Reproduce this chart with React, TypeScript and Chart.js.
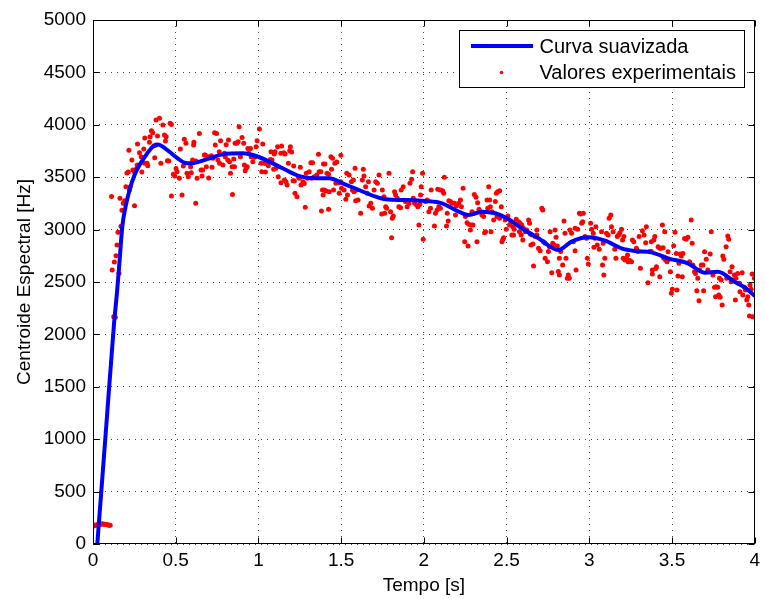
import React, { useEffect, useRef } from 'react';
import { Chart, registerables } from 'chart.js';

Chart.register(...registerables);

const FONT = "'Liberation Sans', Arial, Helvetica, sans-serif";

// Smoothed curve ("Curva suavizada")
const curveTime = [0.015, 0.026, 0.08, 0.127, 0.145, 0.161, 0.177, 0.197, 0.221, 0.251, 0.281, 0.321, 0.361, 0.392, 0.422, 0.462, 0.512, 0.552, 0.592, 0.643, 0.705, 0.785, 0.906, 0.986, 1.066, 1.146, 1.247, 1.348, 1.428, 1.508, 1.608, 1.709, 1.769, 1.889, 2.010, 2.110, 2.191, 2.271, 2.351, 2.432, 2.502, 2.592, 2.693, 2.813, 2.893, 2.994, 3.095, 3.195, 3.275, 3.375, 3.476, 3.596, 3.697, 3.777, 3.878, 3.948, 4.0];
const curveCentroid = [-230, 0, 1123, 2100, 2400, 2710, 3028, 3219, 3378, 3521, 3616, 3712, 3791, 3813, 3791, 3743, 3680, 3639, 3632, 3648, 3680, 3718, 3728, 3702, 3648, 3585, 3511, 3489, 3489, 3442, 3378, 3314, 3289, 3282, 3273, 3251, 3187, 3139, 3171, 3156, 3108, 3013, 2917, 2805, 2885, 2926, 2894, 2821, 2796, 2783, 2726, 2678, 2589, 2598, 2503, 2440, 2366];

// Experimental values ("Valores experimentais")
const expTime = [
  0.002, 0.008, 0.014, 0.020, 0.026, 0.032, 0.038, 0.044, 0.050, 0.056, 0.062, 0.068, 0.074, 0.080, 0.086, 0.092, 0.098, 0.104,
  0.125, 0.135, 0.116, 0.129, 0.139, 0.145, 0.151, 0.157, 0.169, 0.175, 0.112, 0.163, 0.183, 0.191, 0.199, 0.225, 0.221, 0.251, 0.205, 0.213, 0.235, 0.217, 0.241, 0.261, 0.251, 0.269, 0.267, 0.281, 0.295, 0.307, 0.291, 0.313, 0.311, 0.327, 0.331, 0.345, 0.341, 0.353, 0.361, 0.369, 0.381, 0.381, 0.402, 0.373, 0.390, 0.410, 0.422, 0.432, 0.442, 0.438, 0.450, 0.458, 0.466, 0.474, 0.474, 0.486, 0.494, 0.502, 0.508, 0.522, 0.528, 0.538, 0.546, 0.552, 0.562, 0.568, 0.576, 0.590, 0.594, 0.602, 0.622, 0.610, 0.608, 0.621, 0.629, 0.643, 0.653, 0.663, 0.659, 0.673,
  0.679, 0.695, 0.715, 0.725, 0.685, 0.719, 0.699, 0.735, 0.747, 0.739, 0.755, 0.765, 0.763, 0.771, 0.785, 0.795, 0.799, 0.805, 0.819, 0.815, 0.825, 0.831, 0.841, 0.843, 0.851, 0.855, 0.859, 0.869, 0.877, 0.883, 0.891, 0.901, 0.911, 0.915, 0.920, 0.932, 0.926, 0.936, 0.952, 0.942, 0.956, 0.966, 0.976, 0.986, 0.992, 1.006, 1.016, 1.020, 1.026, 1.036, 1.046, 1.042, 1.060, 1.072, 1.082, 1.076, 1.096, 1.100, 1.092, 1.106, 1.116, 1.120, 1.136, 1.140, 1.136, 1.157, 1.167, 1.153, 1.161, 1.173, 1.181, 1.189, 1.193, 1.201, 1.209, 1.217, 1.213, 1.221, 1.233, 1.241, 1.253, 1.247, 1.257, 1.269, 1.277, 1.283, 1.289, 1.297, 1.307, 1.317, 1.327, 1.321, 1.337, 1.353, 1.363, 1.367, 1.377, 1.381, 1.387, 1.391, 1.393,
  1.402, 1.414, 1.424, 1.438, 1.448, 1.462, 1.474, 1.442, 1.424, 1.408, 1.428, 1.398, 1.454, 1.468, 1.482, 1.498, 1.498, 1.488, 1.502, 1.518, 1.528, 1.538, 1.534, 1.548, 1.562, 1.574, 1.584, 1.568, 1.578, 1.594, 1.588, 1.602, 1.618, 1.628, 1.634, 1.638, 1.648, 1.658, 1.665, 1.679, 1.669, 1.689, 1.699, 1.709, 1.719, 1.729, 1.749, 1.759, 1.745, 1.763, 1.769, 1.775, 1.789, 1.799, 1.815, 1.809, 1.805, 1.823, 1.829, 1.839, 1.849, 1.859, 1.863, 1.875, 1.889, 1.899, 1.910, 1.916, 1.926, 1.932, 1.936, 1.944, 1.956, 1.964, 1.976, 1.970, 1.980, 1.984, 1.996, 1.992, 2.010, 2.020, 2.030, 2.040, 2.044,
  2.084, 2.100, 2.114, 2.120, 2.124, 2.080, 2.070, 2.064, 2.090, 2.100, 2.137, 2.147, 2.151, 2.161, 2.171, 2.141, 2.185, 2.197, 2.211, 2.191, 2.221, 2.227, 2.237, 2.251, 2.261, 2.271, 2.247, 2.267, 2.281, 2.287, 2.297, 2.291, 2.301, 2.305, 2.315, 2.325, 2.333, 2.321, 2.341, 2.351, 2.361, 2.367, 2.373, 2.382, 2.392, 2.386, 2.402, 2.412, 2.398, 2.406, 2.422, 2.432, 2.438, 2.446, 2.458, 2.442, 2.458, 2.472, 2.478, 2.482, 2.468, 2.492, 2.498, 2.508, 2.518, 2.526, 2.538, 2.546, 2.532, 2.542, 2.558, 2.566, 2.572, 2.582, 2.592, 2.588, 2.598, 2.578, 2.602, 2.612, 2.622, 2.633, 2.639, 2.643, 2.653, 2.647, 2.659, 2.663, 2.673, 2.683, 2.693, 2.703, 2.713, 2.719, 2.683,
  2.723, 2.733, 2.733, 2.747, 2.753, 2.759, 2.763, 2.773, 2.779, 2.787, 2.793, 2.799, 2.807, 2.813, 2.819, 2.819, 2.827, 2.839, 2.847, 2.853, 2.859, 2.867, 2.873, 2.879, 2.883, 2.893, 2.904, 2.914, 2.914, 2.920, 2.930, 2.940, 2.948, 2.964, 2.954, 2.960, 2.974, 2.984, 2.988, 2.994, 3.008, 3.014, 3.024, 3.034, 3.028, 3.040, 3.048, 3.060, 3.074, 3.084, 3.080, 3.088, 3.094, 3.104, 3.114, 3.120, 3.130, 3.134, 3.144, 3.154, 3.161, 3.169, 3.177, 3.185, 3.195, 3.201, 3.209, 3.205, 3.215, 3.225, 3.235, 3.245, 3.255, 3.231, 3.261, 3.269, 3.285, 3.295, 3.301, 3.309, 3.321, 3.331, 3.345, 3.341, 3.355, 3.365, 3.375, 3.375, 3.381, 3.381,
  3.396, 3.390, 3.402, 3.406, 3.416, 3.426, 3.426, 3.436, 3.446, 3.442, 3.456, 3.450, 3.462, 3.470, 3.476, 3.482, 3.490, 3.496, 3.502, 3.510, 3.518, 3.526, 3.530, 3.536, 3.542, 3.550, 3.556, 3.566, 3.562, 3.576, 3.586, 3.596, 3.606, 3.616, 3.622, 3.626, 3.636, 3.642, 3.650, 3.656, 3.667, 3.663, 3.677, 3.687, 3.691, 3.697, 3.707, 3.717, 3.731, 3.737, 3.747, 3.757, 3.763, 3.767, 3.777, 3.783, 3.791, 3.787, 3.797, 3.803, 3.807, 3.813, 3.827, 3.837, 3.843, 3.831, 3.851, 3.863, 3.857, 3.867, 3.877, 3.887, 3.883, 3.897, 3.907, 3.911, 3.924, 3.928, 3.938, 3.944, 3.952, 3.964, 3.958, 3.972, 3.978, 3.984, 3.998, 3.968, 3.988,
];
const expCentroid = [
  172, 175, 178, 181, 184, 186, 188, 190, 191, 191, 190, 189, 188, 186, 184, 182, 180, 178,
  2169, 2163, 2614, 2691, 2751, 2853, 2974, 2583, 3031, 3184, 3317, 3298, 3251, 3276, 3410, 3410, 3378, 3228, 3540, 3549, 3664, 3756, 3569, 3578, 3553, 3817, 3616, 3734, 3549, 3769, 3696, 3874, 3632, 3632, 3610, 3887, 3833, 3944, 3925, 3801, 3807, 4046, 4062, 3686, 3893, 3632, 3998, 3903, 3887, 3845, 3658, 3655, 4014, 4004, 3321, 3527, 3511, 3584, 3553, 3489, 3769, 3330, 3607, 3861, 3823, 3537, 3505, 3600, 3543, 3664, 3655, 3833, 3807, 3251, 3489, 3918, 3569, 3569, 3511, 3712,
  3712, 3696, 3705, 3680, 3600, 3594, 3492, 3925, 3918, 3807, 3664, 3632, 3743, 3848, 3616, 3728, 3696, 3810, 3855, 3664, 3648, 3537, 3600, 3336, 3674, 3600, 3823, 3823, 3839, 3982, 3696, 3880, 3823, 3616, 3562, 3600, 3585, 3775, 3775, 3728, 3696, 3648, 3690, 3791, 3848, 3960, 3632, 3553, 3817, 3632, 3632, 3549, 3610, 3670, 3664, 3743, 3721, 3743, 3575, 3585, 3791, 3505, 3728, 3798, 3448, 3473, 3457, 3734, 3721, 3426, 3632, 3753, 3791, 3740, 3467, 3464, 3607, 3346, 3314, 3505, 3594, 3489, 3426, 3457, 3441, 3213, 3537, 3489, 3553, 3638, 3638, 3489, 3505, 3521, 3718, 3553, 3553, 3177, 3378, 3330, 3626,
  3626, 3537, 3527, 3696, 3680, 3632, 3645, 3575, 3194, 3369, 3362, 3378, 3378, 3442, 3448, 3457, 3709, 3346, 3394, 3378, 3289, 3330, 3537, 3521, 3457, 3473, 3585, 3378, 3362, 3378, 3276, 3282, 3155, 3473, 3575, 3511, 3410, 3346, 3457, 3251, 3225, 3203, 3378, 3457, 3442, 3521, 3378, 3314, 3149, 3155, 3219, 3203, 3537, 3171, 3130, 3108, 2923, 3362, 3330, 3298, 3219, 3209, 3378, 3410, 3267, 3219, 3251, 3442, 3480, 3553, 3298, 3251, 3235, 3219, 3241, 3044, 3330, 3410, 2907, 3537, 3267, 3282, 3171, 3203, 3378,
  3384, 3378, 3371, 3346, 3499, 3187, 3155, 3034, 3219, 3203, 3034, 3082, 3276, 3267, 3251, 3155, 3251, 3225, 3251, 3139, 3282, 3219, 3394, 3124, 3066, 3050, 2885, 2844, 2996, 3044, 3044, 3171, 3155, 3336, 3308, 3257, 3194, 2885, 3171, 3139, 3124, 2971, 2980, 3282, 3410, 3203, 3219, 3171, 3282, 2980, 3092, 3267, 3346, 3362, 3371, 3124, 3108, 2885, 2907, 2923, 3219, 3092, 3003, 3130, 3044, 3073, 3028, 3003, 2948, 2948, 3098, 3044, 3076, 3060, 3044, 2948, 2901, 2980, 3012, 2980, 2996, 3092, 3060, 2958, 2948, 2853, 2863, 2653, 2933, 2948, 2821, 2799, 3203, 3187, 2996,
  2885, 2869, 2726, 2694, 2790, 2837, 2980, 2589, 2869, 2853, 2996, 2926, 2844, 2599, 2567, 2726, 2790, 2663, 3082, 2965, 2726, 2535, 2567, 2535, 2996, 2965, 2885, 3012, 2799, 2615, 3003, 3155, 3149, 3155, 3060, 3076, 2933, 2917, 2726, 2672, 3060, 3003, 2965, 2917, 2831, 3028, 2853, 2812, 2980, 2869, 2663, 2567, 2726, 2965, 2949, 3108, 3139, 3028, 2980, 2812, 2726, 2933, 2949, 2971, 3003, 2901, 2933, 2726, 2710, 2726, 2694, 2704, 2694, 2758, 2901, 2885, 2821, 2790, 2933, 2631, 2990, 2949, 3028, 2875, 2494, 2790, 2790, 2885, 2615, 2577,
  2933, 2901, 2630, 2646, 2837, 2821, 2551, 2821, 2827, 3044, 2980, 2726, 2710, 2694, 2789, 2716, 2598, 2392, 2430, 2846, 2974, 2773, 2424, 2557, 2678, 2767, 2748, 2773, 2551, 2916, 2907, 2926, 2694, 3091, 2869, 2662, 2598, 2582, 2417, 2535, 2614, 2322, 2662, 2662, 2417, 2789, 2716, 2614, 2767, 2980, 2567, 2449, 2360, 2455, 2449, 2376, 2354, 2535, 2519, 2280, 2748, 2716, 2837, 2939, 2907, 2535, 2598, 2646, 2503, 2519, 2567, 2535, 2328, 2582, 2487, 2408, 2589, 2376, 2449, 2424, 2328, 2280, 2360, 2471, 2430, 2576, 2535, 2175, 2169,
];

const legendLabels = ['Curva suavizada', 'Valores experimentais'];
const xTitle = 'Tempo [s]';
const yTitle = 'Centroide Espectral [Hz]';

const matlabFrame = {
  id: 'matlabFrame',
  afterDatasetsDraw(chart: any) {
    const { ctx, chartArea: a, scales } = chart;
    const L = Math.round(a.left) + 0.5;
    const R = Math.round(a.right) - 0.5;
    const T = Math.round(a.top) + 0.5;
    const B = Math.round(a.bottom) - 0.5;
    ctx.save();
    ctx.strokeStyle = '#000';
    ctx.lineWidth = 1;
    ctx.setLineDash([]);
    ctx.strokeRect(L, T, R - L, B - T);
    const tl = 6;
    ctx.beginPath();
    for (const t of scales.x.ticks) {
      const px = Math.round(scales.x.getPixelForValue(t.value)) + 0.5;
      ctx.moveTo(px, B); ctx.lineTo(px, B - tl);
      ctx.moveTo(px, T); ctx.lineTo(px, T + tl);
    }
    for (const t of scales.y.ticks) {
      const py = Math.round(scales.y.getPixelForValue(t.value)) + 0.5;
      ctx.moveTo(L, py); ctx.lineTo(L + tl, py);
      ctx.moveTo(R, py); ctx.lineTo(R - tl, py);
    }
    ctx.stroke();

    // legend box
    const bw = 285, bh = 57;
    const bx = Math.round(a.right) - 10.5 - bw;
    const by = Math.round(a.top) + 10.5;
    ctx.fillStyle = '#fff';
    ctx.fillRect(bx, by, bw, bh);
    ctx.strokeRect(bx, by, bw, bh);
    const row1 = by + 15.5;
    const row2 = by + 42;
    ctx.strokeStyle = '#0000ff';
    ctx.lineWidth = 4;
    ctx.beginPath();
    ctx.moveTo(bx + 11.5, row1);
    ctx.lineTo(bx + 73.5, row1);
    ctx.stroke();
    ctx.fillStyle = '#ff0000';
    ctx.beginPath();
    ctx.arc(bx + 42, row2, 1.8, 0, Math.PI * 2);
    ctx.fill();
    ctx.fillStyle = '#000';
    ctx.font = `20px ${FONT}`;
    ctx.textAlign = 'left';
    ctx.textBaseline = 'middle';
    ctx.fillText(legendLabels[0], bx + 80, row1 + 1);
    ctx.fillText(legendLabels[1], bx + 80, row2 + 1);
    ctx.restore();
  },
};

export default function App() {
  const ref = useRef<HTMLCanvasElement>(null);
  useEffect(() => {
    document.body.style.margin = '0';
    const curve = curveTime.map((t, i) => ({ x: t, y: curveCentroid[i] }));
    const exp = expTime.map((t, i) => ({ x: t, y: expCentroid[i] }));
    const chart = new Chart(ref.current as HTMLCanvasElement, {
      type: 'scatter',
      data: {
        datasets: [
          {
            label: legendLabels[0],
            data: curve,
            showLine: true,
            borderColor: '#0000ff',
            borderWidth: 4,
            pointRadius: 0,
            pointHoverRadius: 0,
            cubicInterpolationMode: 'monotone',
            clip: 0,
            order: 0,
          } as any,
          {
            label: legendLabels[1],
            data: exp,
            backgroundColor: '#ff0000',
            borderWidth: 0,
            pointRadius: 2.5,
            pointHoverRadius: 2.5,
            clip: 0,
            order: 1,
          } as any,
        ],
      },
      options: {
        responsive: false,
        animation: false,
        devicePixelRatio: 1,
        events: [],
        layout: { padding: { left: 0, right: 8, top: 20, bottom: 0 } },
        plugins: { legend: { display: false }, tooltip: { enabled: false } },
        scales: {
          x: {
            type: 'linear',
            min: 0,
            max: 4,
            ticks: {
              stepSize: 0.5,
              color: '#000',
              font: { family: FONT, size: 19 },
              padding: 5,
              maxRotation: 0,
              autoSkip: false,
              callback: (v: any) => String(v),
            },
            grid: { color: 'rgba(0,0,0,0.75)', lineWidth: 1, drawTicks: false },
            border: { display: false, dash: [1, 5] },
            title: { display: true, text: xTitle, color: '#000', font: { family: FONT, size: 19 }, padding: { top: 0, bottom: 2 } },
            afterFit: (s: any) => { s.height = 55; },
          },
          y: {
            type: 'linear',
            min: 0,
            max: 5000,
            ticks: {
              stepSize: 500,
              color: '#000',
              font: { family: FONT, size: 19 },
              padding: 7,
              autoSkip: false,
              callback: (v: any) => String(v),
            },
            grid: { color: 'rgba(0,0,0,0.75)', lineWidth: 1, drawTicks: false },
            border: { display: false, dash: [1, 5] },
            title: { display: true, text: yTitle, color: '#000', font: { family: FONT, size: 19 }, padding: { top: 13, bottom: 0 } },
            afterFit: (s: any) => { s.width = 93; },
          },
        },
      },
      plugins: [matlabFrame],
    } as any);
    return () => chart.destroy();
  }, []);
  return (
    <div style={{ width: 765, height: 599 }}>
      <canvas ref={ref} width={765} height={599} style={{ display: 'block' }} />
    </div>
  );
}
